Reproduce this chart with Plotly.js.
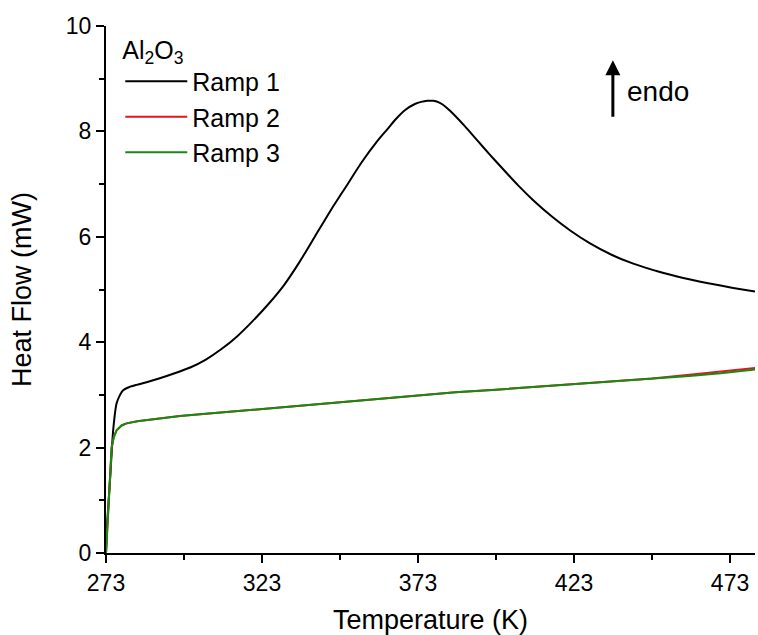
<!DOCTYPE html>
<html>
<head>
<meta charset="utf-8">
<script src="https://cdn.plot.ly/plotly-3.0.1.min.js"></script>
<style>html,body{margin:0;padding:0;background:#fff;}#chart{width:758px;height:635px;}</style>
</head>
<body>
<div id="chart"></div>
<script>
// Ramp 1 (black)
const ramp1T = [273, 273.3, 274.3, 275.3, 276.4, 277.5, 278.5, 280.5, 282.8, 286, 290, 295, 300, 305, 310, 315, 320, 325, 330, 335, 340, 345, 350, 355, 360, 363, 366, 369, 372, 374, 376, 378, 380, 382, 384, 388, 392, 396, 400, 405, 410, 416, 422, 428, 435, 442, 450, 458, 466, 474, 481];
const ramp1H = [0, 0.5, 1.39, 2.33, 2.84, 3.00, 3.09, 3.15, 3.19, 3.24, 3.31, 3.41, 3.52, 3.67, 3.87, 4.11, 4.40, 4.72, 5.08, 5.52, 6.01, 6.50, 6.96, 7.42, 7.82, 8.03, 8.24, 8.41, 8.52, 8.56, 8.58, 8.58, 8.54, 8.46, 8.35, 8.10, 7.83, 7.56, 7.30, 6.98, 6.69, 6.38, 6.11, 5.88, 5.66, 5.49, 5.34, 5.22, 5.12, 5.03, 4.96];
// Ramp 2 (red)
const ramp2T = [273, 273.5, 274.2, 274.8, 275.5, 276.4, 278, 279.6, 283, 286, 290, 296.7, 305, 312.7, 320, 328.8, 340, 350, 360, 373, 385, 398, 410, 423, 435, 448, 460, 470, 481];
const ramp2H = [0, 0.6, 1.3, 2.0, 2.2, 2.33, 2.42, 2.46, 2.50, 2.52, 2.55, 2.60, 2.64, 2.68, 2.72, 2.76, 2.82, 2.87, 2.93, 2.99, 3.05, 3.10, 3.15, 3.20, 3.25, 3.31, 3.38, 3.44, 3.51];
// Ramp 3 (green)
const ramp3T = [273, 273.5, 274.2, 274.8, 275.5, 276.4, 278, 279.6, 283, 286, 290, 296.7, 305, 312.7, 320, 328.8, 340, 350, 360, 373, 385, 398, 410, 423, 435, 448, 460, 470, 481];
const ramp3H = [0, 0.6, 1.3, 2.0, 2.2, 2.33, 2.42, 2.46, 2.50, 2.52, 2.55, 2.60, 2.64, 2.68, 2.72, 2.76, 2.82, 2.87, 2.93, 2.99, 3.05, 3.10, 3.15, 3.20, 3.25, 3.31, 3.36, 3.41, 3.48];

const seriesNames = ['Ramp 1', 'Ramp 2', 'Ramp 3'];
const xTickVals = [273, 323, 373, 423, 473];
const xTickText = ['273', '323', '373', '423', '473'];
const yTickVals = [0, 2, 4, 6, 8, 10];

const FONT = '"Liberation Sans", Arial, sans-serif';

const traces = [
  {x: ramp1T, y: ramp1H, name: seriesNames[0], mode: 'lines', line: {color: '#000000', width: 2, shape: 'spline', smoothing: 0.6}},
  {x: ramp2T, y: ramp2H, name: seriesNames[1], mode: 'lines', line: {color: '#e8141b', width: 2}},
  {x: ramp3T, y: ramp3H, name: seriesNames[2], mode: 'lines', line: {color: '#148c14', width: 2}}
];

const axisCommon = {
  showgrid: false, zeroline: false, showline: true, linecolor: '#000', linewidth: 2,
  ticks: 'outside', ticklen: 8, tickwidth: 2, tickcolor: '#000',
  tickfont: {family: FONT, size: 23, color: '#000'}
};

const layout = {
  width: 758, height: 635,
  margin: {l: 106, r: 3, t: 26, b: 82},
  paper_bgcolor: '#fff', plot_bgcolor: '#fff',
  font: {family: FONT, color: '#000'},
  xaxis: Object.assign({}, axisCommon, {
    range: [273, 481], tickmode: 'array', tickvals: xTickVals, ticktext: xTickText,
    minor: {tick0: 273, dtick: 25, ticks: 'outside', ticklen: 5, tickwidth: 2, tickcolor: '#000'},
    title: {text: 'Temperature (K)', font: {family: FONT, size: 27, color: '#000'}, standoff: 20}
  }),
  yaxis: Object.assign({}, axisCommon, {
    range: [0, 10], tickmode: 'array', tickvals: yTickVals,
    minor: {tick0: 0, dtick: 1, ticks: 'outside', ticklen: 5, tickwidth: 2, tickcolor: '#000'},
    title: {text: 'Heat Flow (mW)', font: {family: FONT, size: 27, color: '#000'}, standoff: 26}
  }),
  showlegend: true,
  legend: {
    x: 0.022, y: 1.0, xanchor: 'left', yanchor: 'top',
    bgcolor: 'rgba(0,0,0,0)', borderwidth: 0,
    font: {family: FONT, size: 25, color: '#000'},
    title: {text: 'Al<sub>2</sub>O<sub>3</sub>', font: {family: FONT, size: 25, color: '#000'}},
    itemwidth: 62,
    tracegroupgap: 0
  },
  annotations: [
    {xref: 'paper', yref: 'paper', x: 0.781, y: 0.935, ax: 0, ay: 58, text: '',
     showarrow: true, arrowhead: 2, arrowsize: 1, arrowwidth: 3, arrowcolor: '#000'},
    {xref: 'paper', yref: 'paper', x: 0.8, y: 0.875, xanchor: 'left', yanchor: 'middle',
     text: 'endo', showarrow: false, font: {family: FONT, size: 28, color: '#000'}}
  ]
};

Plotly.newPlot('chart', traces, layout, {displayModeBar: false, staticPlot: true});
</script>
</body>
</html>
